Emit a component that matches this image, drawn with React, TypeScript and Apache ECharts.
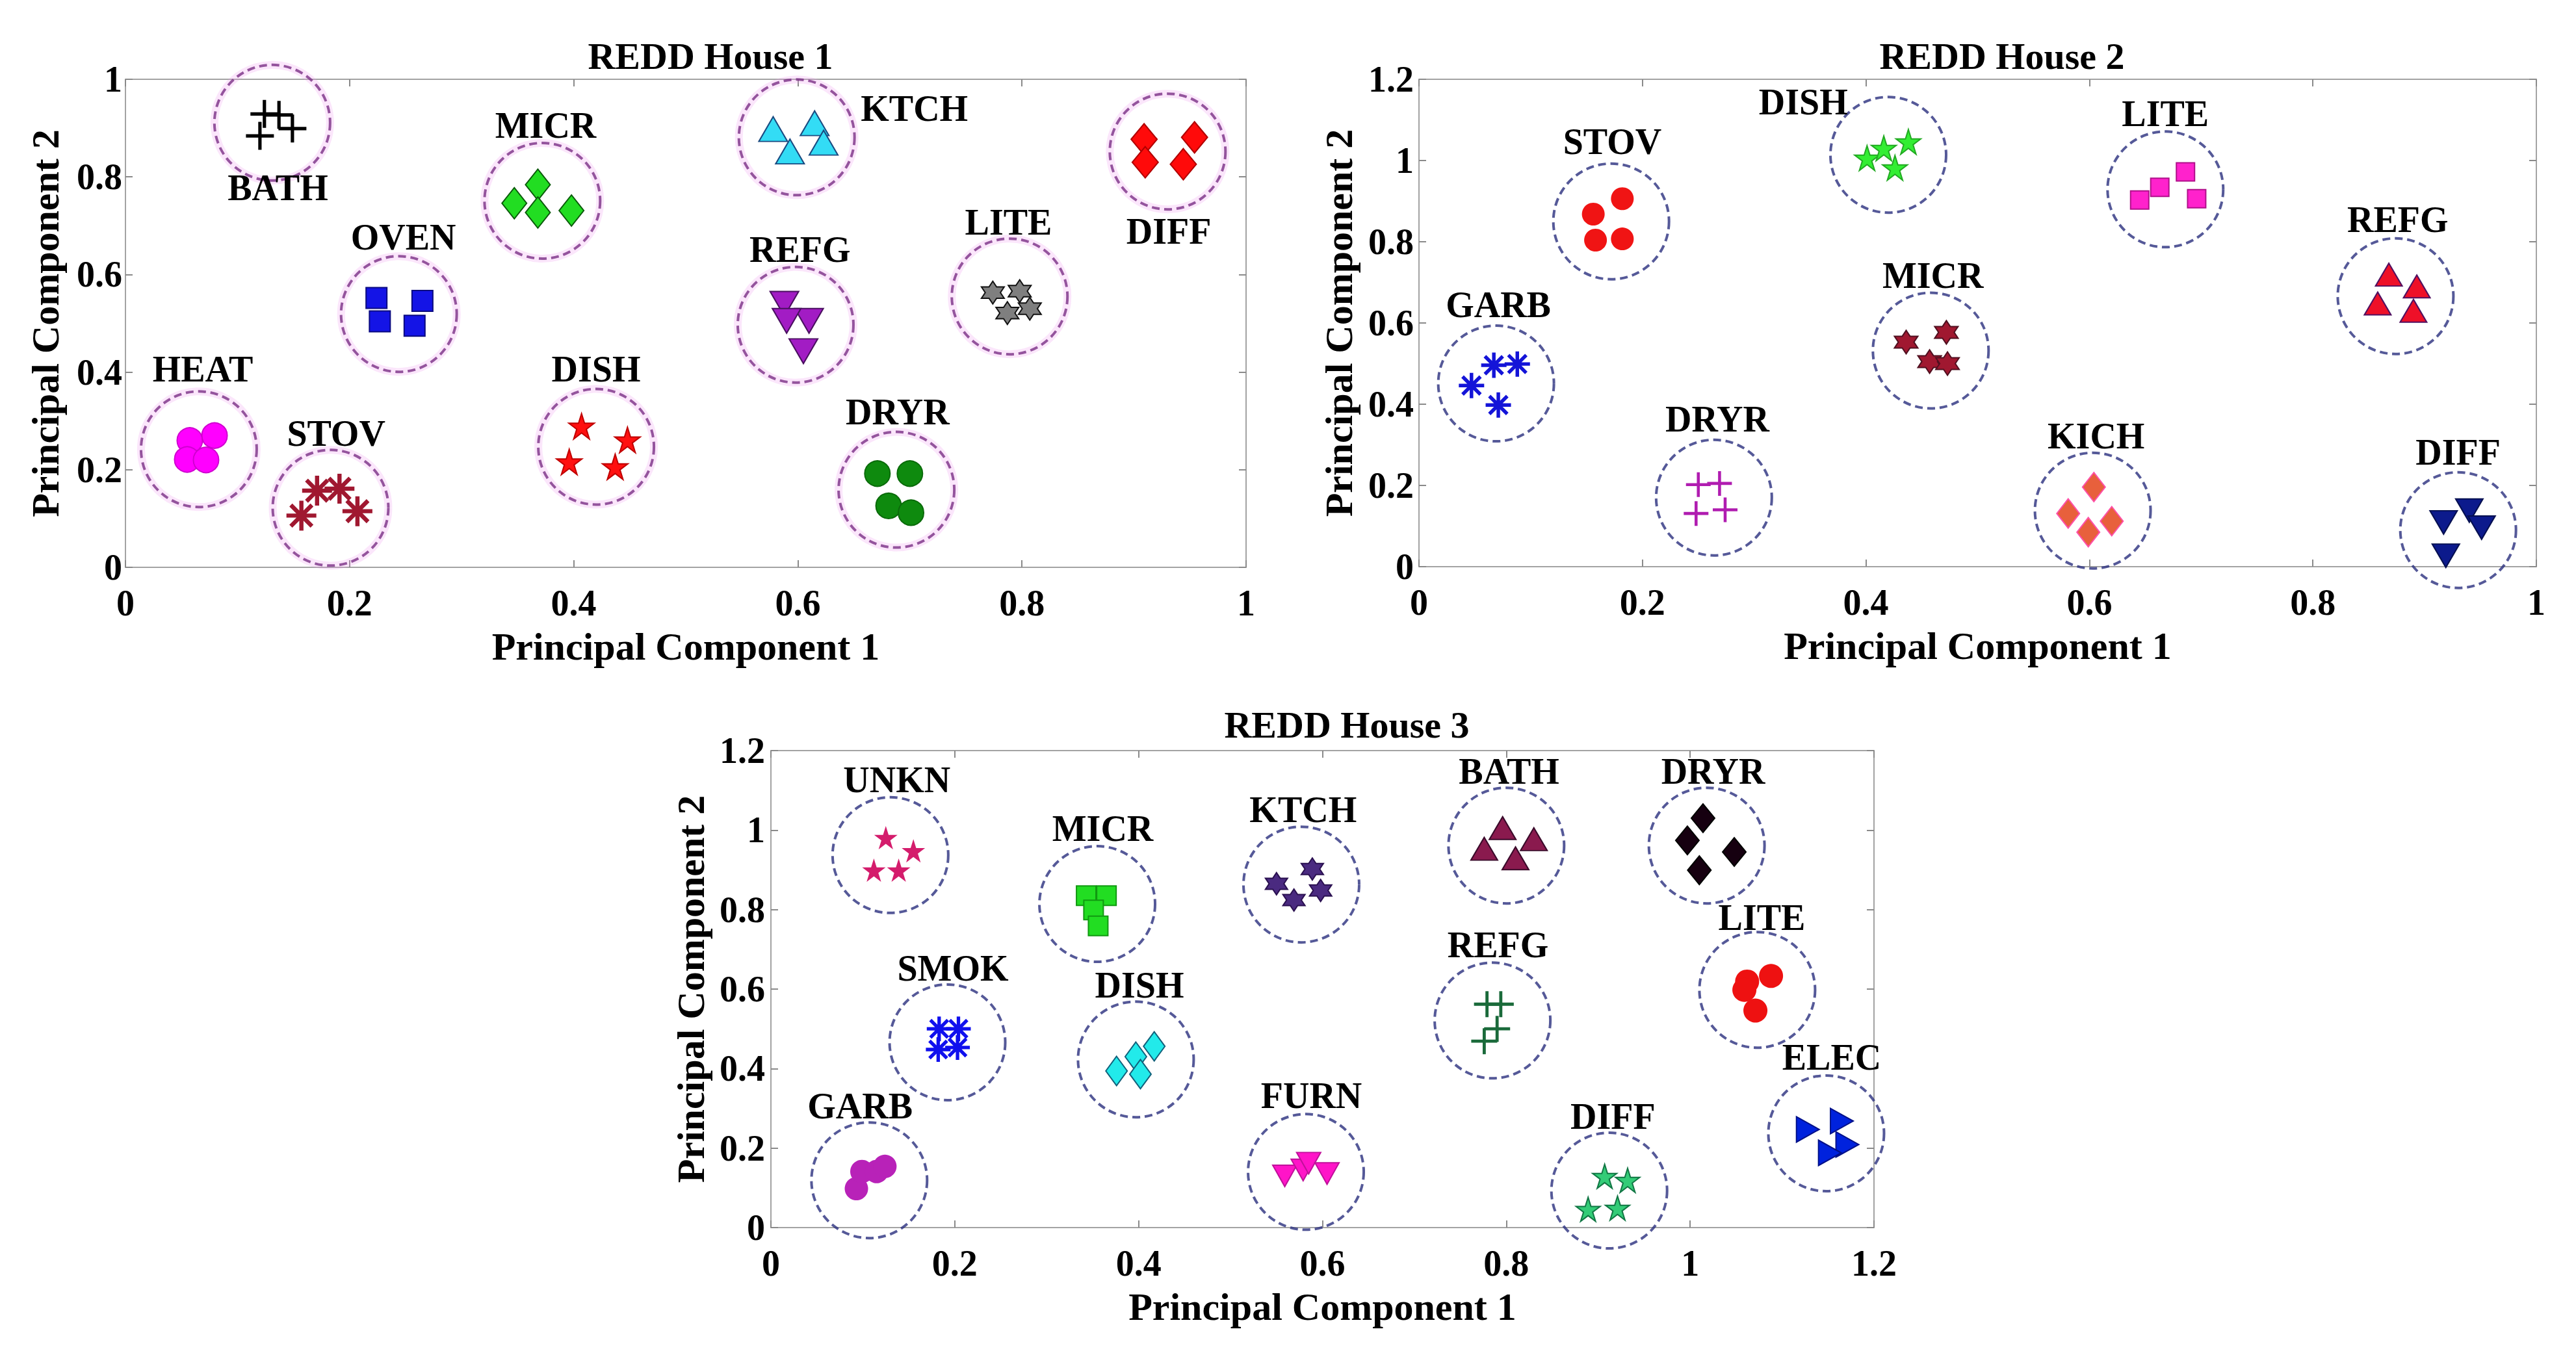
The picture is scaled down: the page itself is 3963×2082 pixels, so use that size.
import React, { useEffect, useRef } from "react";
import * as echarts from "echarts";

// ---------------- House 1 ----------------
const H1_NAMES = ["BATH", "MICR", "OVEN", "HEAT", "STOV", "DISH", "KTCH", "REFG", "LITE", "DRYR", "DIFF"];
const H1_CIRCLES = [[0.131, 0.911], [0.372, 0.751], [0.244, 0.519], [0.0655, 0.242], [0.183, 0.122], [0.420, 0.247], [0.599, 0.881], [0.598, 0.497], [0.789, 0.555], [0.688, 0.159], [0.930, 0.852]];
const H1_LABEL_POS = [[0.136, 0.777], [0.375, 0.905], [0.248, 0.676], [0.069, 0.406], [0.188, 0.274], [0.420, 0.406], [0.704, 0.940], [0.602, 0.651], [0.788, 0.707], [0.689, 0.318], [0.931, 0.689]];
const H1_POINTS = [
  [[0.120, 0.884], [0.124, 0.929], [0.137, 0.927], [0.149, 0.899]],
  [[0.347, 0.746], [0.368, 0.784], [0.368, 0.727], [0.398, 0.731]],
  [[0.224, 0.552], [0.265, 0.546], [0.227, 0.504], [0.258, 0.495]],
  [[0.0574, 0.260], [0.0795, 0.270], [0.0551, 0.221], [0.0719, 0.220]],
  [[0.157, 0.106], [0.171, 0.157], [0.191, 0.161], [0.207, 0.115]],
  [[0.407, 0.289], [0.448, 0.261], [0.396, 0.216], [0.437, 0.206]],
  [[0.578, 0.898], [0.593, 0.852], [0.615, 0.910], [0.623, 0.870]],
  [[0.588, 0.540], [0.610, 0.505], [0.590, 0.505], [0.605, 0.443]],
  [[0.774, 0.563], [0.798, 0.566], [0.787, 0.521], [0.807, 0.530]],
  [[0.671, 0.192], [0.700, 0.192], [0.681, 0.126], [0.701, 0.112]],
  [[0.909, 0.877], [0.954, 0.881], [0.910, 0.830], [0.944, 0.826]],
];

// ---------------- House 2 ----------------
const H2_NAMES = ["STOV", "GARB", "DRYR", "DISH", "MICR", "LITE", "REFG", "KICH", "DIFF"];
const H2_CIRCLES = [[0.172, 0.850], [0.069, 0.451], [0.264, 0.170], [0.420, 1.014], [0.458, 0.532], [0.668, 0.929], [0.874, 0.666], [0.603, 0.138], [0.930, 0.090]];
const H2_LABEL_POS = [[0.173, 1.046], [0.071, 0.645], [0.267, 0.364], [0.344, 1.144], [0.460, 0.717], [0.668, 1.115], [0.876, 0.855], [0.606, 0.322], [0.930, 0.281]];
const H2_POINTS = [
  [[0.156, 0.868], [0.182, 0.906], [0.158, 0.804], [0.182, 0.807]],
  [[0.047, 0.446], [0.067, 0.496], [0.088, 0.499], [0.071, 0.398]],
  [[0.250, 0.202], [0.269, 0.205], [0.248, 0.131], [0.274, 0.140]],
  [[0.401, 1.006], [0.416, 1.030], [0.438, 1.046], [0.426, 0.982]],
  [[0.436, 0.553], [0.472, 0.577], [0.457, 0.505], [0.473, 0.500]],
  [[0.645, 0.903], [0.663, 0.934], [0.686, 0.972], [0.696, 0.906]],
  [[0.868, 0.719], [0.893, 0.690], [0.858, 0.648], [0.890, 0.630]],
  [[0.604, 0.196], [0.581, 0.131], [0.620, 0.112], [0.599, 0.085]],
  [[0.917, 0.109], [0.940, 0.138], [0.951, 0.096], [0.919, 0.027]],
];

// ---------------- House 3 ----------------
const H3_NAMES = ["UNKN", "MICR", "SMOK", "DISH", "GARB", "KTCH", "FURN", "BATH", "DRYR", "REFG", "LITE", "ELEC", "DIFF"];
const H3_CIRCLES = [[0.130, 0.937], [0.355, 0.814], [0.192, 0.466], [0.397, 0.423], [0.107, 0.119], [0.577, 0.863], [0.582, 0.140], [0.800, 0.961], [1.018, 0.961], [0.785, 0.521], [1.073, 0.598], [1.148, 0.237], [0.912, 0.093]];
const H3_LABEL_POS = [[0.137, 1.126], [0.361, 1.004], [0.198, 0.652], [0.401, 0.610], [0.097, 0.306], [0.579, 1.051], [0.588, 0.332], [0.803, 1.148], [1.025, 1.148], [0.791, 0.711], [1.078, 0.780], [1.154, 0.428], [0.916, 0.280]];
const H3_POINTS = [
  [[0.125, 0.981], [0.155, 0.948], [0.112, 0.899], [0.139, 0.899]],
  [[0.343, 0.835], [0.365, 0.835], [0.351, 0.799], [0.356, 0.759]],
  [[0.183, 0.500], [0.204, 0.500], [0.182, 0.448], [0.203, 0.453]],
  [[0.376, 0.394], [0.397, 0.430], [0.402, 0.386], [0.417, 0.456]],
  [[0.093, 0.098], [0.099, 0.141], [0.115, 0.141], [0.124, 0.154]],
  [[0.550, 0.865], [0.569, 0.824], [0.589, 0.902], [0.598, 0.848]],
  [[0.559, 0.130], [0.579, 0.145], [0.585, 0.162], [0.605, 0.136]],
  [[0.796, 1.005], [0.776, 0.953], [0.830, 0.977], [0.810, 0.929]],
  [[1.014, 1.030], [0.997, 0.974], [1.048, 0.945], [1.010, 0.899]],
  [[0.779, 0.562], [0.794, 0.562], [0.790, 0.500], [0.776, 0.469]],
  [[1.062, 0.619], [1.088, 0.633], [1.059, 0.598], [1.071, 0.546]],
  [[1.128, 0.247], [1.165, 0.268], [1.171, 0.209], [1.152, 0.188]],
  [[0.907, 0.129], [0.932, 0.119], [0.889, 0.046], [0.921, 0.049]],
];

const TITLES = ["REDD House 1", "REDD House 2", "REDD House 3"];
const X_MAX = [1, 1, 1.2];
const Y_MAX = [1, 1.2, 1.2];

// ---------------- symbol shapes (styling) ----------------
const poly = (pts: number[][]) => "M" + pts.map((p) => p[0].toFixed(2) + "," + p[1].toFixed(2)).join("L") + "Z";
const starPts = (n: number, rIn: number) => {
  const pts: number[][] = [];
  for (let k = 0; k < 2 * n; k++) {
    const a = (-90 + (k * 180) / n) * (Math.PI / 180);
    const r = k % 2 === 0 ? 50 : rIn;
    pts.push([50 + r * Math.cos(a), 50 + r * Math.sin(a)]);
  }
  return pts;
};
const STAR = "path://" + poly(starPts(5, 19.1));
const HEXA = "path://" + poly(starPts(6, 28.87));
const ASTER = (() => {
  const t = 7;
  const base = [[-50, -t], [50, -t], [50, t], [-50, t]];
  let d = "";
  [0, 45, 90, 135].forEach((deg) => {
    const a = (deg * Math.PI) / 180;
    d += poly(base.map(([x, y]) => [50 + x * Math.cos(a) - y * Math.sin(a), 50 + x * Math.sin(a) + y * Math.cos(a)]));
  });
  return "path://" + d;
})();
const PLUS = "path://M44,0L56,0L56,44L100,44L100,56L56,56L56,100L44,100L44,56L0,56L0,44L44,44Z";
const DOWN = "path://M0,0L100,0L50,86.6Z";
const RIGHT = "path://M0,0L86.6,50L0,100Z";

type Sty = { s: string; z: number | number[]; c: string; b?: string; bw?: number };
const H1_STYLE: Sty[] = [
  { s: PLUS, z: 43, c: "#000000" },
  { s: "diamond", z: [38, 48], c: "#22dd22", b: "#0a5a0a" },
  { s: "rect", z: 32, c: "#1414e6", b: "#0a0a80" },
  { s: "circle", z: 39, c: "#ff00ff", b: "#d000d0" },
  { s: ASTER, z: 46, c: "#a01830" },
  { s: STAR, z: 39, c: "#ff1010", b: "#c00000" },
  { s: "triangle", z: [44, 38], c: "#33dcf5", b: "#1a4a80" },
  { s: DOWN, z: [44, 38], c: "#a21cc4", b: "#4a1060" },
  { s: HEXA, z: 35, c: "#7f7f7f", b: "#111111" },
  { s: "circle", z: 39, c: "#0e8a0e", b: "#0a6a0a" },
  { s: "diamond", z: [40, 48], c: "#ff0a0a", b: "#b00000" },
];
const H2_STYLE: Sty[] = [
  { s: "circle", z: 35, c: "#f01414" },
  { s: ASTER, z: 39, c: "#1414d8" },
  { s: PLUS, z: 38, c: "#b01cb0" },
  { s: STAR, z: 38, c: "#33ee33", b: "#22aa22" },
  { s: HEXA, z: 36, c: "#a01830", b: "#501020" },
  { s: "rect", z: 28, c: "#ff22cc", b: "#b0108a" },
  { s: "triangle", z: [41, 35], c: "#ee1028", b: "#501060" },
  { s: "diamond", z: [35, 45], c: "#e8603c", b: "#ff4fa8" },
  { s: DOWN, z: [42, 36], c: "#0c1a8c", b: "#050f50" },
];
const H3_STYLE: Sty[] = [
  { s: STAR, z: 36, c: "#d41c6c" },
  { s: "rect", z: 30, c: "#22dd22", b: "#119911" },
  { s: ASTER, z: 38, c: "#1010ee" },
  { s: "diamond", z: [33, 45], c: "#22eaea", b: "#10607a" },
  { s: "circle", z: 36, c: "#b822b8" },
  { s: HEXA, z: 34, c: "#4a2a80", b: "#2a1050" },
  { s: DOWN, z: [37, 33], c: "#ff14c8", b: "#c0109a" },
  { s: "triangle", z: [41, 35], c: "#8a1a4e", b: "#3a0a2a" },
  { s: "diamond", z: [36, 44], c: "#160010", b: "#000000" },
  { s: PLUS, z: 40, c: "#1a6a3a" },
  { s: "circle", z: 37, c: "#ee1111" },
  { s: RIGHT, z: [35, 39], c: "#0022dd", b: "#001088" },
  { s: STAR, z: 37, c: "#33cc77", b: "#117744" },
];

const FONT = '"Liberation Serif", "Times New Roman", serif';
const GRIDS = [
  { left: 193, top: 122, width: 1724, height: 751 },
  { left: 2183, top: 122, width: 1719, height: 750 },
  { left: 1186, top: 1155, width: 1697, height: 734 },
];
const TITLE_POS = [[1093, 86], [3080, 86], [2072, 1115]];
const CIRCLE_COLOR = ["#7a2f86", "#2b2f7e", "#2b2f7e"];
const Y_LABEL_MARGIN = [5, 8, 9];

function buildOption() {
  const panels = [
    { names: H1_NAMES, circles: H1_CIRCLES, labels: H1_LABEL_POS, points: H1_POINTS, style: H1_STYLE },
    { names: H2_NAMES, circles: H2_CIRCLES, labels: H2_LABEL_POS, points: H2_POINTS, style: H2_STYLE },
    { names: H3_NAMES, circles: H3_CIRCLES, labels: H3_LABEL_POS, points: H3_POINTS, style: H3_STYLE },
  ];
  const axisLine = { show: true, onZero: false, lineStyle: { color: "#a3a3a3", width: 2 } };
  const axisTick = { show: true, inside: true, length: 11, lineStyle: { color: "#8a8a8a", width: 2 } };
  const tickFont = { fontFamily: FONT, fontWeight: "bold" as const, fontSize: 56, color: "#000" };
  const nameFont = { fontFamily: FONT, fontWeight: "bold" as const, fontSize: 60, color: "#000" };

  const xAxis: any[] = [];
  const yAxis: any[] = [];
  const series: any[] = [];
  panels.forEach((p, i) => {
    xAxis.push({
      type: "value", gridIndex: i, min: 0, max: X_MAX[i], interval: 0.2, position: "bottom",
      axisLine, axisTick, splitLine: { show: false },
      axisLabel: { ...tickFont, margin: 27 },
      name: "Principal Component 1", nameLocation: "middle", nameGap: 92, nameTextStyle: nameFont,
    });
    xAxis.push({
      type: "value", gridIndex: i, min: 0, max: X_MAX[i], interval: 0.2, position: "top",
      axisLine, axisTick, splitLine: { show: false }, axisLabel: { show: false },
    });
    yAxis.push({
      type: "value", gridIndex: i, min: 0, max: Y_MAX[i], interval: 0.2, position: "left",
      axisLine, axisTick, splitLine: { show: false },
      axisLabel: { ...tickFont, margin: Y_LABEL_MARGIN[i] },
      name: "Principal Component 2", nameLocation: "middle", nameRotate: 90, nameGap: 93, nameTextStyle: nameFont,
    });
    yAxis.push({
      type: "value", gridIndex: i, min: 0, max: Y_MAX[i], interval: 0.2, position: "right",
      axisLine, axisTick, splitLine: { show: false }, axisLabel: { show: false },
    });
    const ax = { xAxisIndex: 2 * i, yAxisIndex: 2 * i };
    if (i === 0) {
      series.push({
        type: "scatter", ...ax, silent: true, z: 1, data: p.circles, symbol: "circle", symbolSize: 178,
        itemStyle: { color: "rgba(0,0,0,0)", borderColor: "rgba(240,150,240,0.30)", borderWidth: 12 },
        emphasis: { disabled: true },
      });
    }
    series.push({
      type: "scatter", ...ax, silent: true, z: 2, data: p.circles, symbol: "circle", symbolSize: 178,
      itemStyle: { color: "rgba(0,0,0,0)", borderColor: CIRCLE_COLOR[i], borderWidth: 4, borderType: [12, 7] },
      emphasis: { disabled: true },
    });
    p.points.forEach((pts, k) => {
      const st = p.style[k];
      series.push({
        type: "scatter", ...ax, silent: true, z: 3, name: p.names[k], data: pts, symbol: st.s, symbolSize: st.z,
        itemStyle: { color: st.c, borderColor: st.b || st.c, borderWidth: st.b ? 2 : 0, opacity: 1 },
        emphasis: { disabled: true },
      });
    });
    series.push({
      type: "scatter", ...ax, silent: true, z: 4, symbolSize: 1,
      itemStyle: { color: "#ffffff", opacity: 1 },
      data: p.names.map((n, k) => ({ name: n, value: p.labels[k] })),
      label: {
        show: true, position: "inside", formatter: "{b}", fontFamily: FONT, fontWeight: "bold", fontSize: 56,
        color: "#000000", opacity: 1, textBorderWidth: 0, textBorderColor: "transparent", textShadowBlur: 0,
      },
      labelLayout: { hideOverlap: false },
      emphasis: { disabled: true },
    });
  });

  const graphic = TITLES.map((t, i) => ({
    type: "text", x: TITLE_POS[i][0], y: TITLE_POS[i][1], silent: true,
    style: {
      text: t, fill: "#000", fontFamily: FONT, fontWeight: "bold", fontSize: 58,
      align: "center", verticalAlign: "middle", textAlign: "center", textVerticalAlign: "middle",
    },
  }));

  return {
    animation: false,
    backgroundColor: "#ffffff",
    grid: GRIDS.map((g) => ({ ...g, containLabel: false })),
    xAxis, yAxis, series, graphic,
  };
}

export default function App() {
  const ref = useRef<HTMLDivElement>(null);
  useEffect(() => {
    if (!ref.current) return;
    const chart = echarts.init(ref.current, undefined, { renderer: "svg" });
    chart.setOption(buildOption() as any);
    return () => chart.dispose();
  }, []);
  return (
    <div
      ref={ref}
      style={{ position: "fixed", left: 0, top: 0, width: "3963px", height: "2082px", background: "#fff" }}
    />
  );
}
